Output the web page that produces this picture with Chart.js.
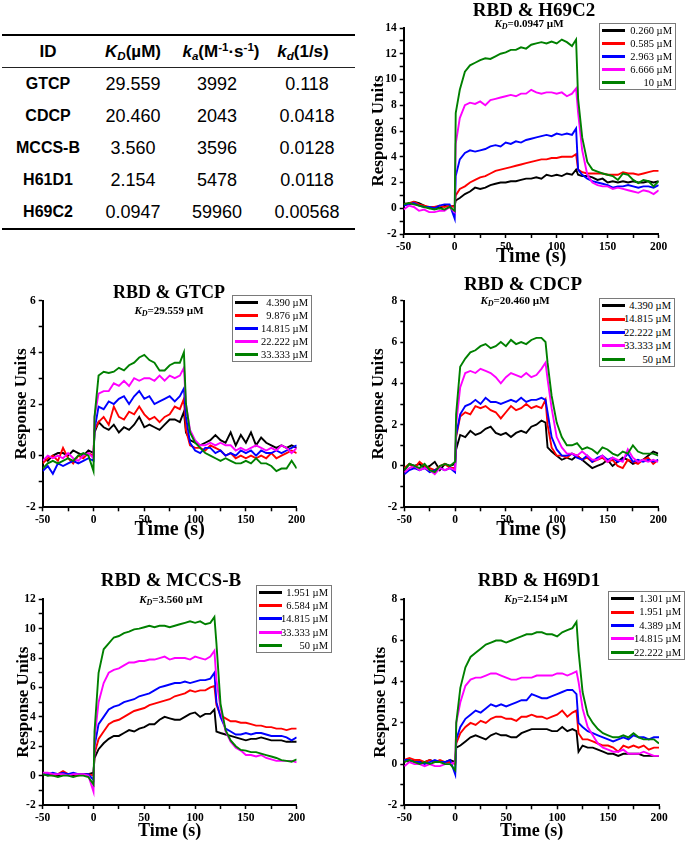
<!DOCTYPE html>
<html>
<head>
<meta charset="utf-8">
<script src="https://cdn.jsdelivr.net/npm/chart.js@4.4.1/dist/chart.umd.min.js"></script>
<style>
html,body{margin:0;padding:0;background:#fff;}
body{width:685px;height:842px;position:relative;overflow:hidden;}
canvas{position:absolute;}
.ttl{position:absolute;transform:translate(-50%,-50%);font-family:'Liberation Serif','Times New Roman',serif;font-weight:bold;white-space:nowrap;color:#000;line-height:1;}
.kd{position:absolute;transform:translate(-50%,-50%);font-family:'Liberation Serif','Times New Roman',serif;font-weight:bold;font-size:11px;white-space:nowrap;color:#000;line-height:1;}
.kd sub{font-size:8px;vertical-align:-2px;line-height:0;}
.lg{position:absolute;border:1px solid #7a7a7a;background:#fff;box-sizing:border-box;font-family:'Liberation Serif','Times New Roman',serif;font-size:10.5px;color:#000;}
.lg .row{position:relative;}
.lg .ln{position:absolute;left:2px;width:23px;height:3px;top:50%;margin-top:-1.5px;}
.lg .tx{position:absolute;right:3px;top:0;white-space:nowrap;}
.tb{position:absolute;font-family:'Liberation Sans',Arial,sans-serif;color:#000;white-space:nowrap;text-align:center;width:140px;}
.tb sub{font-size:0.68em;vertical-align:-0.3em;line-height:0;}
.tb sup{font-size:0.68em;vertical-align:0.5em;line-height:0;}
.rule{position:absolute;background:#000;left:2px;width:353px;}
</style>
</head>
<body>
<script>
// ---------- table data ----------
const tableIds = ['GTCP','CDCP','MCCS-B','H61D1','H69C2'];
const tableKD  = ['29.559','20.460','3.560','2.154','0.0947'];
const tableKa  = ['3992','2043','3596','5478','59960'];
const tableKd  = ['0.118','0.0418','0.0128','0.0118','0.00568'];

// ---------- time axes (s) ----------
const timesLong  = [-50,-45,-40,-35,-30,-25,-20,-15,-10,-5,0,1,5,10,15,20,25,30,35,40,45,50,55,60,65,70,75,80,85,90,95,100,105,110,115,119,121,125,130,135,140,145,150,155,160,165,170,175,180,185,190,195,200];
const timesShort = [-50,-45,-40,-35,-30,-25,-20,-15,-10,-5,0,1,5,10,15,20,25,30,35,40,45,50,55,60,65,70,75,80,85,89,91,95,100,105,110,115,120,125,130,135,140,145,150,155,160,165,170,175,180,185,190,195,200];

// ---------- RBD & H69C2 ----------
const legH69C2 = ['0.260 µM','0.585 µM','2.963 µM','6.666 µM','10 µM'];
const c2_0260 = [0.4,0.3,0.5,0.4,0.2,0.0,0.1,0.0,0.2,0.1,0.2, 0.6, 0.8,1.1,1.3,1.6,1.5,1.6,1.8,1.9,2.0,2.0,2.1,2.1,2.2,2.3,2.3,2.4,2.3,2.6,2.5,2.6,2.5,2.7,2.6, 3.0,2.6, 2.5,2.5,2.4,2.2,2.3,2.0,2.1,2.0,2.1,2.0,2.1,2.0,2.0,2.1,2.0,2.1];
const c2_0585 = [0.3,0.4,0.5,0.3,0.2,0.1,0.1,0.2,0.1,0.2,0.1, 1.0, 1.5,1.7,2.0,2.2,2.4,2.5,2.7,2.9,3.0,3.1,3.2,3.3,3.4,3.5,3.6,3.7,3.8,3.8,3.9,3.9,4.0,4.0,4.0, 4.2,3.0, 2.8,2.7,2.7,2.7,2.7,2.6,2.6,2.6,2.8,2.7,2.7,2.6,2.7,2.8,2.9,2.9];
const c2_2963 = [0.2,0.3,0.4,0.2,0.1,0.1,0.0,0.2,0.3,0.3,-0.8, 2.5, 3.8,4.3,4.5,4.4,4.5,4.6,4.8,4.9,4.8,5.1,5.0,5.2,5.1,5.3,5.4,5.5,5.6,5.7,5.6,5.8,5.7,5.8,5.7, 6.2,3.0, 2.6,2.3,2.1,2.0,1.9,1.8,1.6,1.7,1.7,1.8,1.7,1.6,1.7,1.7,1.6,1.8];
const c2_6666 = [-0.1,0.2,0.1,-0.2,-0.1,-0.3,-0.3,-0.2,-0.2,0.1,-0.3, 5.0, 7.0,8.0,8.2,8.1,8.3,8.0,8.4,8.5,8.6,8.7,8.8,8.7,8.9,8.9,9.2,9.0,8.9,9.0,9.0,8.9,9.0,8.7,8.9, 9.3,7.4, 4.5,2.6,2.0,1.8,1.7,1.7,1.5,1.6,1.5,1.4,1.3,1.2,1.4,1.3,1.1,1.4];
const c2_10   = [0.3,0.4,0.3,0.2,0.1,0.0,-0.1,0.0,-0.1,0.1,-0.2, 7.4, 9.2,10.6,11.1,11.3,11.5,11.65,11.6,11.8,12.0,12.1,12.3,12.3,12.5,12.4,12.7,12.8,12.9,12.8,12.95,12.8,13.1,12.9,12.6, 13.1,8.5, 5.5,3.6,3.0,2.85,2.7,2.6,2.5,2.2,2.7,2.6,2.2,1.95,2.2,2.1,1.7,2.1];

// ---------- RBD & GTCP ----------
const legGTCP = ['4.390 µM','9.876 µM','14.815 µM','22.222 µM','33.333 µM'];
const gt_4390  = [-0.1,-0.2,0.0,0.1,0.1,0.0,0.2,0.1,0.0,0.2,0.1, 0.9, 1.3,1.1,1.0,1.2,0.9,1.1,1.0,1.2,1.5,1.1,1.2,1.1,1.0,1.2,1.4,1.4,1.3, 1.7,0.9, 0.6,0.5,0.4,0.5,0.6,0.8,0.6,0.5,0.9,0.4,0.8,0.5,0.9,0.4,0.7,0.5,0.4,0.3,0.4,0.3,0.4,0.3];
const gt_9876  = [-0.3,-0.1,0.0,-0.2,0.3,-0.1,-0.3,0.0,-0.1,0.1,0.0, 1.0, 1.3,1.5,1.2,1.9,1.5,1.4,1.7,1.6,1.9,1.6,1.4,1.5,1.3,1.5,1.6,1.9,1.8, 2.2,1.0, 0.4,0.3,0.3,0.2,0.4,0.3,0.2,0.0,0.1,-0.1,0.0,-0.1,0.0,-0.1,0.0,-0.1,0.1,-0.1,0.0,0.1,0.2,0.1];
const gt_14815 = [-0.6,-0.4,-0.7,-0.3,-0.4,-0.3,-0.2,-0.3,-0.2,-0.1,-0.2, 1.0, 1.9,1.8,2.1,2.0,2.2,2.3,2.0,2.3,2.5,2.2,2.3,2.0,2.1,2.2,2.3,2.1,2.3, 2.6,1.5, 0.5,0.2,0.1,0.3,0.3,0.1,0.2,0.0,0.1,0.0,0.2,0.1,0.2,0.0,0.2,0.1,0.1,0.2,0.1,0.2,0.3,0.4];
const gt_22222 = [-0.2,0.0,-0.1,0.0,-0.1,0.1,-0.1,-0.2,0.0,0.1,-0.1, 1.5, 2.4,2.5,2.5,2.8,2.7,2.9,2.7,3.0,2.9,3.0,3.0,2.9,3.1,2.9,3.1,3.0,3.1, 3.4,2.0, 1.0,0.6,0.4,0.4,0.5,0.4,0.5,0.4,0.4,0.2,0.3,0.2,0.3,0.4,0.3,0.2,0.3,0.2,0.4,0.3,0.1,0.3];
const gt_33333 = [-0.5,-0.3,-0.2,-0.3,-0.2,-0.1,-0.2,0.0,0.1,0.0,-0.6, 1.5, 3.1,3.25,3.2,3.25,3.4,3.3,3.5,3.6,3.8,3.9,3.7,3.6,3.3,3.3,3.5,3.6,3.6, 4.0,2.0, 0.9,0.5,0.3,0.1,0.0,-0.1,-0.2,-0.1,-0.2,-0.3,-0.3,-0.2,-0.3,-0.1,-0.3,-0.3,-0.4,-0.6,-0.5,-0.5,-0.2,-0.5];

// ---------- RBD & CDCP ----------
const legCDCP = ['4.390 µM','14.815 µM','22.222 µM','33.333 µM','50 µM'];
const cd_4390  = [-0.2,0.1,0.0,0.1,-0.1,0.0,0.2,-0.2,0.1,0.0,0.1, 0.8, 1.5,1.4,1.7,1.5,1.6,1.8,1.9,1.6,1.5,1.6,1.4,1.6,1.7,1.6,1.9,2.0,2.2, 2.1,0.9, 0.7,0.5,0.3,0.4,0.3,0.5,0.3,0.1,-0.1,0.0,0.1,0.3,0.0,0.2,0.4,0.3,0.1,0.2,0.3,0.5,0.7,0.6];
const cd_14815 = [-0.1,0.1,-0.1,0.2,0.0,-0.1,-0.2,0.0,0.1,-0.1,-0.1, 1.4, 2.4,2.6,2.5,2.9,2.8,2.9,2.7,2.6,2.3,2.6,2.9,2.7,2.8,3.0,2.8,2.9,2.8, 3.2,2.0, 0.9,0.5,0.5,0.4,0.6,0.5,0.3,0.4,0.2,0.3,0.4,0.2,0.3,0.0,-0.1,0.3,0.2,0.1,0.3,0.4,0.1,0.3];
const cd_22222 = [-0.4,-0.2,-0.1,-0.2,-0.1,-0.3,-0.2,-0.1,-0.2,-0.1,-0.3, 1.5, 2.5,2.9,3.0,3.2,3.0,3.3,3.1,3.1,3.0,3.1,3.2,3.1,3.3,3.1,3.2,3.2,3.3, 3.2,2.6, 1.4,0.8,0.5,0.5,0.6,0.4,0.3,0.5,0.2,0.4,0.5,0.3,0.4,0.2,0.3,0.6,0.2,0.3,0.2,0.3,0.2,0.3];
const cd_33333 = [-0.3,-0.1,0.0,-0.2,-0.1,-0.2,-0.4,-0.1,-0.2,-0.1,-0.2, 2.0, 3.8,4.5,4.6,4.5,4.7,4.6,4.5,4.3,4.0,4.3,4.5,4.4,4.3,4.5,4.3,4.4,4.7, 5.0,4.2, 2.8,1.4,0.9,0.6,0.6,0.5,0.7,0.5,0.3,0.3,0.5,0.2,0.4,0.3,0.2,0.8,0.4,0.2,0.3,0.2,0.3,0.2];
const cd_50    = [-0.2,0.1,0.0,-0.1,0.1,-0.2,-0.3,0.0,0.1,0.0,0.2, 2.5, 4.8,5.2,5.5,5.6,5.8,5.9,5.7,5.8,6.0,5.8,6.1,5.9,6.0,5.9,6.1,6.2,6.2, 6.0,5.0, 3.4,2.1,1.4,1.0,1.0,1.1,0.8,0.9,0.8,0.6,0.9,0.8,0.6,0.5,0.7,0.6,1.0,0.7,0.6,0.6,0.6,0.5];

// ---------- RBD & MCCS-B ----------
const legMCCSB = ['1.951 µM','6.584 µM','14.815 µM','33.333 µM','50 µM'];
const mc_1951  = [0.1,0.0,0.1,0.0,0.1,0.1,0.0,0.1,0.1,0.1,0.2, 1.2, 1.8,2.2,2.5,2.7,2.7,2.9,3.1,3.0,3.2,3.3,3.5,3.5,3.8,4.0,3.9,3.8,3.8,4.0,4.2,4.3,4.0,4.2,4.2, 4.5,3.0, 2.9,2.8,2.7,2.6,2.5,2.4,2.5,2.5,2.6,2.5,2.4,2.4,2.4,2.3,2.3,2.3];
const mc_6584  = [0.1,0.1,0.0,0.1,0.3,0.1,0.1,0.0,0.1,0.1,0.0, 1.5, 2.5,3.0,3.5,3.7,3.8,4.0,4.2,4.4,4.5,4.6,4.8,4.9,5.0,5.1,5.2,5.4,5.5,5.6,5.8,5.7,5.8,5.8,6.0, 6.1,4.8, 4.1,3.9,3.7,3.7,3.6,3.6,3.5,3.4,3.4,3.3,3.3,3.2,3.2,3.1,3.2,3.2];
const mc_14815 = [0.1,0.1,0.2,0.1,0.2,0.1,0.2,0.1,0.1,0.1,-0.3, 2.0, 3.5,4.0,4.5,4.7,4.8,5.0,5.1,5.2,5.4,5.5,5.6,5.8,6.0,6.1,6.2,6.3,6.3,6.4,6.3,6.4,6.5,6.5,6.6, 7.0,5.0, 4.0,3.2,3.0,2.8,2.8,2.9,2.8,2.9,2.9,2.8,2.7,2.7,2.7,2.6,2.4,2.6];
const mc_33333 = [0.2,0.2,0.1,0.1,0.1,0.0,0.1,0.1,0.1,0.0,-1.1, 2.5, 5.0,6.3,7.0,7.2,7.3,7.5,7.7,7.7,7.8,7.8,7.9,7.9,8.0,8.1,7.9,8.0,8.0,8.0,7.9,8.1,8.0,7.9,8.1, 8.5,6.5, 4.6,3.0,2.3,1.9,1.7,1.4,1.4,1.3,1.4,1.2,1.1,1.0,1.0,1.0,1.0,0.9];
const mc_50    = [0.1,0.0,0.0,-0.1,0.0,0.0,-0.1,0.0,0.0,-0.1,-0.6, 3.0, 7.0,8.6,9.0,9.4,9.5,9.7,9.8,9.95,10.0,10.1,10.2,10.1,10.2,10.2,10.1,10.2,10.3,10.4,10.5,10.4,10.5,10.3,10.4, 10.8,9.0, 4.9,3.1,2.4,2.0,1.75,1.7,1.6,1.6,1.5,1.4,1.3,1.2,1.05,1.0,0.95,1.1];

// ---------- RBD & H69D1 ----------
const legH69D1 = ['1.301 µM','1.951 µM','4.389 µM','14.815 µM','22.222 µM'];
const hd_1301  = [0.2,0.1,0.2,0.1,0.1,0.2,0.1,0.1,0.1,0.2,0.1, 0.8, 0.9,1.1,1.3,1.4,1.3,1.2,1.4,1.5,1.4,1.4,1.3,1.3,1.5,1.6,1.7,1.7,1.7,1.7,1.6,1.6,1.8,1.6,1.7, 1.6,0.6, 0.9,0.8,0.8,0.7,0.6,0.5,0.5,0.4,0.5,0.5,0.5,0.5,0.4,0.4,0.4,0.4];
const hd_1951  = [0.2,0.3,0.2,0.2,0.1,0.2,0.1,0.2,0.1,0.1,0.0, 1.0, 1.5,1.8,2.0,1.9,2.1,2.0,2.2,2.3,2.3,2.2,2.2,2.1,2.3,2.3,2.4,2.3,2.3,2.2,2.3,2.4,2.6,2.3,2.5, 2.6,1.5, 1.2,1.2,1.1,1.0,0.9,0.9,0.8,0.6,0.9,0.8,0.9,0.8,0.9,0.7,0.8,0.8];
const hd_4389  = [0.2,0.2,0.1,0.1,0.0,0.1,0.2,0.1,0.1,0.2,-0.5, 1.2, 1.8,2.2,2.4,2.6,2.5,2.7,2.9,2.8,2.9,2.8,2.9,3.0,3.1,3.1,3.4,3.3,3.2,3.2,3.3,3.4,3.5,3.6,3.6, 3.4,2.0, 1.8,1.6,1.5,1.4,1.3,1.2,1.1,1.2,1.3,1.2,1.4,1.3,1.3,1.2,1.3,1.3];
const hd_14815 = [-0.1,0.1,0.0,0.0,-0.1,0.0,-0.1,-0.1,0.0,0.0,0.1, 2.0, 3.0,3.8,4.1,4.2,4.2,4.3,4.4,4.4,4.3,4.2,4.1,4.1,4.2,4.2,4.2,4.3,4.3,4.3,4.3,4.4,4.4,4.3,4.4, 4.5,4.0, 2.7,1.8,1.4,1.0,0.8,0.7,0.6,0.6,0.7,0.5,0.5,0.5,0.6,0.5,0.4,0.4];
const hd_22222 = [0.1,0.2,0.1,0.0,0.1,0.0,0.1,0.1,0.0,0.0,-0.3, 2.0, 3.7,4.7,5.2,5.4,5.6,5.8,5.9,6.0,6.0,5.9,6.0,6.1,6.2,6.3,6.3,6.4,6.4,6.3,6.3,6.2,6.4,6.5,6.6, 6.9,5.5, 3.5,2.4,2.0,1.7,1.5,1.4,1.3,1.3,1.4,1.3,1.5,1.3,1.2,1.2,1.2,1.0];

const seriesColors = ['#000000','#ff0000','#0000ff','#ff00ff','#008000'];
const SERIF = "'Liberation Serif', 'Times New Roman', serif";

// ---------- panel layout ----------
const panels = [
  {times:timesLong, series:[c2_0260,c2_0585,c2_2963,c2_6666,c2_10], labels:legH69C2, yMin:-2, yMax:14,
   title:'RBD &amp; H69C2', kd:'0.0947', box:{left:360,top:0,w:325,h:270}, padTop:28, padRight:26.3, yW:43.7, xH:36,
   yTitlePad:10.5, xTitleSize:20, xTitlePad:3.3, titleSize:19, titleAt:[534,8.5], kdAt:[529,22.5], leg:{left:599,top:23,w:77,rowH:13}},
  {times:timesShort, series:[gt_4390,gt_9876,gt_14815,gt_22222,gt_33333], labels:legGTCP, yMin:-2, yMax:6,
   title:'RBD &amp; GTCP', kd:'29.559', box:{left:0,top:272,w:340,h:272}, padTop:28.7, padRight:43.3, yW:42.7, xH:36.7,
   yTitlePad:13, xTitleSize:20, xTitlePad:4, titleSize:18, titleAt:[169,291.5], kdAt:[169,309.5], leg:{left:232,top:295,w:80,rowH:13}},
  {times:timesShort, series:[cd_4390,cd_14815,cd_22222,cd_33333,cd_50], labels:legCDCP, yMin:-2, yMax:8,
   title:'RBD &amp; CDCP', kd:'20.460', box:{left:360,top:272,w:325,h:272}, padTop:28.7, padRight:26.7, yW:44.3, xH:36.7,
   yTitlePad:10, xTitleSize:20, xTitlePad:4, titleSize:19, titleAt:[523,283], kdAt:[515,300.3], leg:{left:599,top:298,w:76,rowH:13.4}},
  {times:timesLong, series:[mc_1951,mc_6584,mc_14815,mc_33333,mc_50], labels:legMCCSB, yMin:-2, yMax:12,
   title:'RBD &amp; MCCS-B', kd:'3.560', box:{left:0,top:566,w:340,h:276}, padTop:33.3, padRight:43.3, yW:42.7, xH:37,
   yTitlePad:14.8, xTitleSize:18, xTitlePad:1.3, titleSize:19, titleAt:[171,579], kdAt:[171,599], leg:{left:256,top:585,w:76,rowH:13.2}},
  {times:timesLong, series:[hd_1301,hd_1951,hd_4389,hd_14815,hd_22222], labels:legH69D1, yMin:-2, yMax:8,
   title:'RBD &amp; H69D1', kd:'2.154', box:{left:360,top:566,w:325,h:276}, padTop:33.3, padRight:26, yW:44.3, xH:36.7,
   yTitlePad:12.2, xTitleSize:18, xTitlePad:1.3, titleSize:19, titleAt:[539,579.2], kdAt:[536,597.5], leg:{left:608,top:591,w:77,rowH:13.4}}
];

function addDiv(cls, html, style) {
  const d = document.createElement('div');
  d.className = cls; d.innerHTML = html;
  Object.assign(d.style, style);
  document.body.appendChild(d);
  return d;
}

// ---------- table ----------
(function buildTable(){
  addDiv('rule','',{top:'33.7px',height:'2.6px'});
  addDiv('rule','',{top:'66.9px',height:'1.5px',background:'#222'});
  addDiv('rule','',{top:'227.8px',height:'2.6px'});
  const heads = ['ID','<i>K</i><sub><i>D</i></sub>(µM)','<i>k</i><sub><i>a</i></sub>(M<sup>-1</sup>·s<sup>-1</sup>)','<i>k</i><sub><i>d</i></sub>(1/s)'];
  const headX = [48,133,221,303];
  heads.forEach((h,i)=>addDiv('tb',h,{left:(headX[i]-70)+'px',top:'36px',height:'32px',lineHeight:'32px',fontSize:'17px',fontWeight:'bold'}));
  const bodyX = [48,133,217,307];
  tableIds.forEach((id,r)=>{
    const top = 68 + r*32;
    const cells = [id, tableKD[r], tableKa[r], tableKd[r]];
    cells.forEach((c,i)=>addDiv('tb',c,{left:(bodyX[i]-70)+'px',top:top+'px',height:'32px',lineHeight:'32px',
      fontSize: i===0 ? '16px' : '18px', fontWeight: i===0 ? 'bold' : 'normal'}));
  });
})();

// ---------- charts ----------
panels.forEach(p=>{
  const cv = document.createElement('canvas');
  cv.width = p.box.w; cv.height = p.box.h;
  cv.style.left = p.box.left+'px'; cv.style.top = p.box.top+'px';
  cv.style.width = p.box.w+'px'; cv.style.height = p.box.h+'px';
  document.body.appendChild(cv);

  const datasets = p.series.map((vals,i)=>({
    label: p.labels[i],
    data: p.times.map((t,k)=>({x:t, y:vals[k]})),
    borderColor: seriesColors[i],
    backgroundColor: seriesColors[i],
    borderWidth: 1.9,
    pointRadius: 0,
    tension: 0,
    fill: false,
    order: 5 - i
  }));

  const tickFont = {family:SERIF, size:11.5, weight:'bold'};
  const chart = new Chart(cv.getContext('2d'), {
    type:'line',
    data:{datasets},
    options:{
      responsive:false, animation:false, devicePixelRatio: window.devicePixelRatio || 1,
      layout:{padding:{left:0, top:p.padTop, right:p.padRight, bottom:0}},
      plugins:{legend:{display:false}, tooltip:{enabled:false}, title:{display:false}},
      scales:{
        x:{type:'linear', min:-50, max:200,
           afterFit:(s)=>{ s.height = p.xH; },
           ticks:{stepSize:25, autoSkip:false, maxRotation:0, minRotation:0, padding:2, color:'#000', font:tickFont,
                  callback:(v)=> (Math.round(v) % 50 === 0 ? String(v) : '')},
           grid:{drawOnChartArea:false, drawTicks:true, tickLength:4, tickWidth:1.5, tickColor:'#000'},
           border:{display:true, color:'#000', width:2},
           title:{display:true, text:'Time (s)', color:'#000', font:{family:SERIF, size:p.xTitleSize, weight:'bold', lineHeight:1}, padding:{top:0, bottom:p.xTitlePad}}
        },
        y:{type:'linear', min:p.yMin, max:p.yMax,
           afterFit:(s)=>{ s.width = p.yW; },
           ticks:{stepSize:1, autoSkip:false, padding:3, color:'#000', font:tickFont,
                  callback:(v)=> (Math.round(v) % 2 === 0 ? String(v) : '')},
           grid:{drawOnChartArea:false, drawTicks:true, tickLength:4, tickWidth:1.5, tickColor:'#000'},
           border:{display:true, color:'#000', width:2},
           title:{display:true, text:'Response Units', color:'#000', font:{family:SERIF, size:17, weight:'bold', lineHeight:1}, padding:{top:p.yTitlePad, bottom:0}}
        }
      }
    }
  });

  // titles
  addDiv('ttl', p.title, {left:p.titleAt[0]+'px', top:p.titleAt[1]+'px', fontSize:p.titleSize+'px'});
  addDiv('kd', '<i>K</i><sub><i>D</i></sub>=' + p.kd + ' µM', {left:p.kdAt[0]+'px', top:p.kdAt[1]+'px'});

  // legend built from the chart's datasets
  const lg = addDiv('lg','',{left:p.leg.left+'px', top:p.leg.top+'px', width:p.leg.w+'px', height:(p.leg.rowH*5+2)+'px'});
  chart.data.datasets.forEach(ds=>{
    const row = document.createElement('div');
    row.className = 'row';
    row.style.height = p.leg.rowH+'px';
    row.style.lineHeight = p.leg.rowH+'px';
    row.innerHTML = '<span class="ln" style="background:'+ds.borderColor+'"></span><span class="tx">'+ds.label+'</span>';
    lg.appendChild(row);
  });
});
</script>
</body>
</html>
